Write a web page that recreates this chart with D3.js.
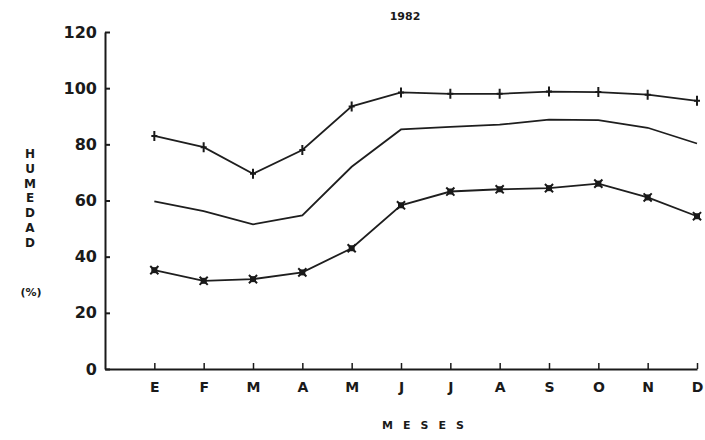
<!DOCTYPE html>
<html>
<head>
<meta charset="utf-8">
<script src="https://cdn.jsdelivr.net/npm/d3@7"></script>
<style>
  body { margin: 0; background: #fff; }
  svg { display: block; }
  text { font-family: "DejaVu Sans", "Liberation Sans", sans-serif; font-weight: bold; fill: #1a1a1a; }
</style>
</head>
<body>
<div id="chart"></div>
<script>
// DATA //
const months = ["E", "F", "M", "A", "M", "J", "J", "A", "S", "O", "N", "D"]
const humMax = [83, 79, 69.5, 78, 93.5, 98.5, 98, 98, 98.8, 98.6, 97.7, 95.5]
const humMed = [59.7, 56.2, 51.5, 54.7, 72, 85.3, 86.2, 87, 88.8, 88.6, 85.9, 80.3]
const humMin = [35.2, 31.4, 32, 34.4, 43, 58.3, 63.2, 64, 64.4, 66, 61.1, 54.4]
const yTicks = [0, 20, 40, 60, 80, 100, 120]

// Set dimensions
const width = 705
const height = 440

const xScale = d3.scaleLinear()
    .domain([0, 12])
    .range([105, 697])

const yScale = d3.scaleLinear()
    .domain([0, 120])
    .range([369, 32])

const svg = d3.select("#chart")
    .append("svg")
    .attr("width", width)
    .attr("height", height)

// axes
const yAxis = svg.append("g")
    .attr("transform", `translate(${xScale(0)},0)`)
    .call(d3.axisLeft(yScale)
        .tickValues(yTicks)
        .tickSizeInner(-5)
        .tickSizeOuter(0)
        .tickPadding(8))
yAxis.select(".domain").attr("stroke", "#1a1a1a").attr("stroke-width", 2)
yAxis.selectAll(".tick line").attr("stroke", "#1a1a1a").attr("stroke-width", 2)
yAxis.selectAll("text")
    .style("font-size", "16px")
    .attr("fill", "#1a1a1a")

const xAxis = svg.append("g")
    .attr("transform", `translate(0,${yScale(0)})`)
    .call(d3.axisBottom(xScale)
        .tickValues(d3.range(1, 13))
        .tickFormat(d => months[d - 1])
        .tickSizeInner(-6)
        .tickSizeOuter(0)
        .tickPadding(13))
xAxis.select(".domain").attr("stroke", "#1a1a1a").attr("stroke-width", 2)
xAxis.selectAll(".tick line").attr("stroke", "#1a1a1a").attr("stroke-width", 1.5)
xAxis.selectAll("text")
    .style("font-size", "14px")
    .attr("fill", "#1a1a1a")

// lines
const line = d3.line()
    .x((d, i) => xScale(i + 1))
    .y(d => yScale(d))

;[humMax, humMed, humMin].forEach(series => {
    svg.append("path")
        .datum(series)
        .attr("d", line)
        .attr("fill", "none")
        .attr("stroke", "#1e1e1e")
        .attr("stroke-width", 1.8)
})

// markers: + on the upper series
svg.selectAll(".mk-max")
    .data(humMax)
    .join("path")
    .attr("class", "mk-max")
    .attr("transform", (d, i) => `translate(${xScale(i + 1)},${yScale(d)})`)
    .attr("d", "M0,-5V5M-3,0H3")
    .attr("stroke", "#1a1a1a")
    .attr("stroke-width", 2)

// star markers on the lower series
const starSym = d3.symbol().type(d3.symbolX).size(45)
svg.selectAll(".mk-min")
    .data(humMin)
    .join("g")
    .attr("class", "mk-min")
    .attr("transform", (d, i) => `translate(${xScale(i + 1)},${yScale(d)})`)
    .each(function () {
        const g = d3.select(this)
        g.append("rect")
            .attr("x", -3).attr("y", -3)
            .attr("width", 6).attr("height", 6)
            .attr("fill", "#1a1a1a")
        g.append("path")
            .attr("d", starSym())
            .attr("stroke", "#1a1a1a")
            .attr("stroke-width", 2)
    })

// title
svg.append("text")
    .attr("x", 405)
    .attr("y", 20)
    .attr("text-anchor", "middle")
    .style("font-size", "11px")
    .text("1982")

// y label, stacked letters
const yLabel = "HUMEDAD".split("")
svg.selectAll(".ylab")
    .data(yLabel)
    .join("text")
    .attr("class", "ylab")
    .attr("x", 30)
    .attr("y", (d, i) => 158 + i * 14.8)
    .attr("text-anchor", "middle")
    .style("font-size", "12px")
    .text(d => d)

svg.append("text")
    .attr("x", 31)
    .attr("y", 296)
    .attr("text-anchor", "middle")
    .style("font-size", "11px")
    .text("(%)")

// x label
svg.append("text")
    .attr("x", 428)
    .attr("y", 429)
    .attr("text-anchor", "middle")
    .style("font-size", "11px")
    .style("letter-spacing", "10px")
    .text("MESES")
</script>
</body>
</html>
